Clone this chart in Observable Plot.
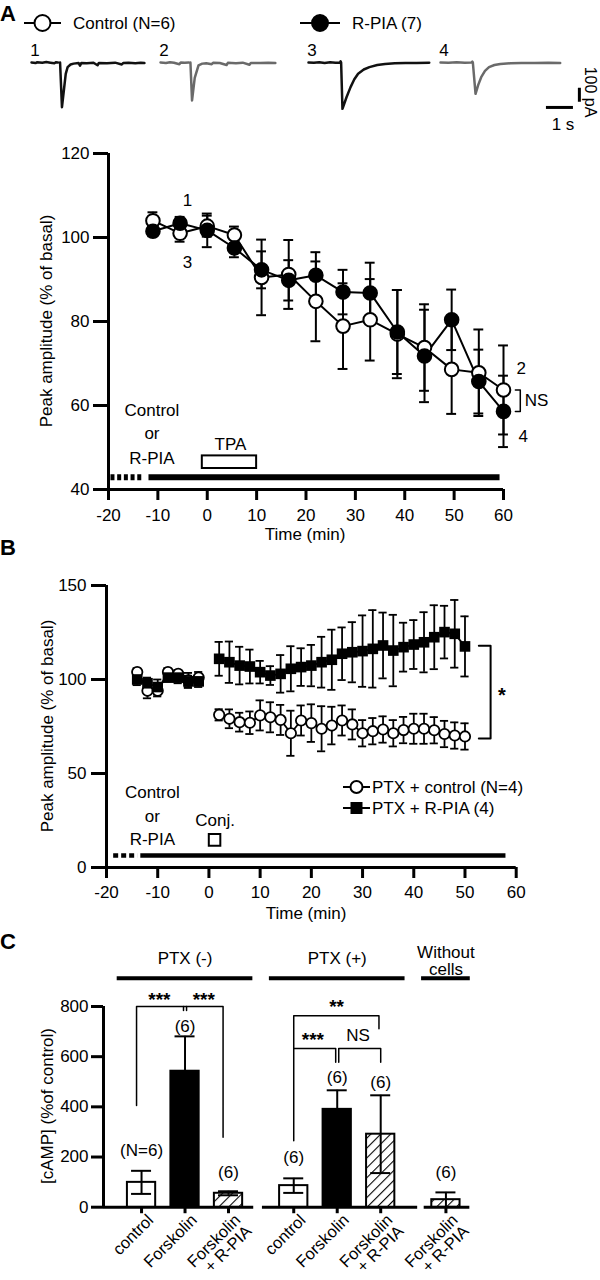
<!DOCTYPE html>
<html>
<head>
<meta charset="utf-8">
<script src="https://cdn.jsdelivr.net/npm/d3@7"></script>
<script src="https://cdn.jsdelivr.net/npm/@observablehq/plot@0.6"></script>
<style>
  html,body{margin:0;padding:0;background:#fff;}
  #root{position:relative;width:600px;height:1280px;overflow:hidden;background:#fff;color:#000;
        font-family:"Liberation Sans",Arial,Helvetica,sans-serif;}
  #root .lbl{position:absolute;white-space:nowrap;line-height:1;width:max-content;}
  #root svg{overflow:visible;}
  #root svg [aria-label*="axis"] path, #root svg [aria-label*="axis"] line{stroke-width:3px;}
</style>
</head>
<body>
<div id="root"></div>
<script>
// ---------------- DATA ----------------
// Panel A : Peak amplitude (% of basal) vs time (min)
const timeA = [-11, -5.5, 0, 5.5, 11, 16.5, 22, 27.5, 33, 38.5, 44, 49.5, 55, 60];
const controlA = [104, 101, 102.7, 100.6, 90.5, 91.2, 84.8, 78.9, 80.4, 77, 73.8, 68.6, 67.8, 63.7];
const controlAErr = [2, 2, 2.5, 2, 9, 8.2, 9.5, 10.2, 9.7, 10.5, 10.3, 10.6, 10.3, 10.6];
const rpiaA = [101.5, 103.4, 101.7, 97.5, 92.3, 89.8, 91, 87, 86.8, 77.5, 71.8, 80.4, 65.7, 58.6];
const rpiaAErr = [1.2, 1.5, 4, 2.2, 4.4, 4.8, 5.5, 5.3, 7.2, 10, 11, 7.2, 7.6, 8.5];
const xTicksA = [-20, -10, 0, 10, 20, 30, 40, 50, 60];
const yTicksA = [40, 60, 80, 100, 120];
const preBarA = [-19.5, -12.9];
const drugBarA = [-11.8, 59.3];
const tpaPeriodA = [-1, 10];
const tracePointLabelsA = ["1", "3", "2", "4"];
const tracePointTimesA = [-4, -4, 63.6, 64];
const tracePointValuesA = [108.8, 94.1, 68.7, 52.5];

// Panel A inset traces: [time (s), current (pA)]
const trace1 = [[0,0],[0.15,-4],[0.2,1],[0.4,-2],[0.55,3],[0.7,-1],[0.85,-5],[0.9,1],[0.98,0],[1.0,NaN],[1.06,0],[1.13,-319],[1.2,-200],[1.27,-81],[1.34,-33],[1.45,-14],[1.56,-8],[1.75,-4],[1.8,-22],[1.85,-3],[2.05,-5],[2.3,-2],[2.45,-20],[2.5,-3],[2.8,-6],[3.1,-1],[3.35,-14],[3.4,-4],[3.6,-2],[3.85,-6],[4.05,-1],[4.19,-4]];
const trace2 = [[0,0],[0.2,-3],[0.35,2],[0.5,-2],[0.7,-12],[0.75,0],[0.9,-2],[1.05,0],[1.08,NaN],[1.11,0],[1.17,-271],[1.27,-110],[1.41,-20],[1.55,-8],[1.7,-5],[1.9,-12],[1.95,-2],[2.2,-4],[2.45,-18],[2.5,-2],[2.8,-5],[3.05,-1],[3.3,-16],[3.35,-3],[3.7,-4],[4.0,-1],[4.26,-3]];
const trace3 = [[0,0],[0.2,-2],[0.4,2],[0.6,-3],[0.8,1],[1.0,-2],[1.17,0],[1.19,8],[1.21,0],[1.26,-331],[1.41,-248],[1.56,-176],[1.7,-120],[1.84,-80],[2.05,-50],[2.26,-33],[2.55,-18],[2.84,-10],[3.2,-6],[3.6,-3],[4.0,-4],[4.48,-1]];
const trace4 = [[0,0],[0.3,-2],[0.6,1],[0.9,-2],[1.15,0],[1.18,6],[1.2,0],[1.3,-224],[1.4,-160],[1.51,-105],[1.65,-60],[1.8,-33],[2.0,-18],[2.22,-10],[2.6,-6],[3.0,-3],[3.5,-4],[4.0,-1],[4.44,-3]];
const scaleBarSeconds = 1;
const scaleBarPicoamps = 100;

// Panel B
const preTimeB = [-14, -12, -10, -8, -6, -4, -2];
const postTimeB = [2, 4, 6, 8, 10, 12, 14, 16, 18, 20, 22, 24, 26, 28, 30, 32, 34, 36, 38, 40, 42, 44, 46, 48, 50];
const ctrlPreB = [104, 94, 94, 104, 103, 99.5, 101];
const ctrlPreErrB = [2, 4, 3, 2, 2, 4, 3];
const rpiaPreB = [100, 98, 96, 101, 101, 99, 99];
const rpiaPreErrB = [3, 3, 4, 2, 3, 3, 3];
const ctrlPostB = [81.2, 79.1, 77.3, 77, 80.9, 79.9, 78.5, 71.4, 78.2, 76.8, 73.8, 75.5, 78.2, 76.1, 71.4, 72.5, 73.4, 71.4, 73.1, 73.8, 73.8, 73, 71, 70.2, 69.7];
const ctrlPostErrB = [3, 5, 5, 6, 8, 8, 8, 12, 8, 10, 12, 10, 8, 8, 7, 7, 7, 7, 7, 8, 8, 7, 7, 7, 7];
const rpiaPostB = [111, 109.2, 107.4, 106.9, 103.9, 102.1, 103, 105.7, 106.6, 107.4, 109.2, 110.5, 113.7, 114.5, 115.1, 116.3, 118.1, 115.4, 117.2, 118.6, 119.8, 122.5, 125.2, 124.3, 117.6];
const rpiaPostErrB = [9, 11, 10, 9, 6, 5, 10, 12, 10, 11, 13.5, 16, 14, 16, 19, 20.6, 17.5, 19, 13, 13, 16, 17, 14, 18, 16];
const xTicksB = [-20, -10, 0, 10, 20, 30, 40, 50, 60];
const yTicksB = [0, 50, 100, 150];
const preBarB = [-18.6, -13.9];
const drugBarB = [-13.3, 58];
const conjTimeB = 1.1;

// Panel C : [cAMP] (% of control)
const barGroupC = ["PTX (-)", "PTX (-)", "PTX (-)", "PTX (+)", "PTX (+)", "PTX (+)", "Without cells"];
const barCategoryC = ["control", "Forskolin", "Forskolin + R-PIA", "control", "Forskolin", "Forskolin + R-PIA", "Forskolin + R-PIA"];
const barValueC = [99, 542, 55.5, 86, 390, 291, 30];
const barErrC = [46, 139, 8, 29, 76, 155, 29];
const barNLabelC = ["(N=6)", "(6)", "(6)", "(6)", "(6)", "(6)", "(6)"];
const barNLabelValueC = [225, 721, 139, 199, 518, 498, 139];
const yTicksC = [0, 200, 400, 600, 800];
const groupLabelsC = ["PTX (-)", "PTX (+)", "Without\ncells"];

// ---------------- HELPERS ----------------
const FONT = '"Liberation Sans", Arial, Helvetica, sans-serif';
const root = document.getElementById("root");
function place(node, left, top) {
  node.style.position = "absolute";
  node.style.left = left + "px";
  node.style.top = top + "px";
  root.appendChild(node);
  return node;
}
function label(txt, x, y, opt = {}) {
  const d = document.createElement("div");
  d.className = "lbl";
  d.textContent = txt;
  d.style.fontSize = (opt.size || 17) + "px";
  d.style.fontWeight = opt.weight || "normal";
  const ax = opt.anchor === "start" ? "0" : opt.anchor === "end" ? "-100%" : "-50%";
  d.style.transform = `translate(${ax},-50%)` + (opt.rotate ? ` rotate(${opt.rotate}deg)` : "");
  d.style.left = x + "px";
  d.style.top = y + "px";
  root.appendChild(d);
  return d;
}
const baseStyle = {fontSize: "17px", fontFamily: FONT, background: "transparent", color: "black", overflow: "visible"};
const pts = (times, vals, errs) => times.map((t, i) => ({t, v: vals[i], e: errs[i]}));
function errMarks(data, cap, sw) {
  return [
    Plot.ruleX(data, {x: "t", y1: d => d.v - d.e, y2: d => d.v + d.e, stroke: "black", strokeWidth: sw}),
    Plot.ruleY(data, {y: d => d.v + d.e, x1: d => d.t - cap, x2: d => d.t + cap, stroke: "black", strokeWidth: sw}),
    Plot.ruleY(data, {y: d => d.v - d.e, x1: d => d.t - cap, x2: d => d.t + cap, stroke: "black", strokeWidth: sw})
  ];
}
function swatch(kind, w, h) {
  const ns = "http://www.w3.org/2000/svg";
  const s = document.createElementNS(ns, "svg");
  s.setAttribute("width", w); s.setAttribute("height", h);
  const l = document.createElementNS(ns, "line");
  l.setAttribute("x1", 0); l.setAttribute("x2", w); l.setAttribute("y1", h / 2); l.setAttribute("y2", h / 2);
  l.setAttribute("stroke", "black"); l.setAttribute("stroke-width", 2);
  s.appendChild(l);
  let m;
  if (kind === "square") {
    m = document.createElementNS(ns, "rect");
    m.setAttribute("x", w / 2 - 6); m.setAttribute("y", h / 2 - 6); m.setAttribute("width", 12); m.setAttribute("height", 12);
    m.setAttribute("fill", "black");
  } else {
    m = document.createElementNS(ns, "circle");
    m.setAttribute("cx", w / 2); m.setAttribute("cy", h / 2);
    m.setAttribute("r", kind === "smallopen" ? 6 : 8);
    m.setAttribute("fill", kind === "filled" ? "black" : "white");
    m.setAttribute("stroke", "black"); m.setAttribute("stroke-width", 2);
  }
  s.appendChild(m);
  return s;
}

// ---------------- PANEL A HEADER ----------------
label("A", 8, 14, {size: 22, weight: "bold"});
place(swatch("open", 37, 20), 24, 13);
label("Control (N=6)", 73, 23, {size: 17, anchor: "start"});
place(swatch("filled", 40, 20), 300, 13);
label("R-PIA (7)", 352, 23, {size: 17, anchor: "start"});

const traceLefts = [31, 160, 308, 440];
const traceColors = ["#111", "#6a6a6a", "#111", "#6a6a6a"];
const traceNames = ["1", "2", "3", "4"];
[trace1, trace2, trace3, trace4].forEach((tr, k) => {
  const p = Plot.plot({
    width: 124, height: 63, margin: 0,
    style: baseStyle,
    x: {domain: [0, 4.6], axis: null},
    y: {domain: [-400, 50], axis: null},
    marks: [Plot.line(tr, {x: d => d[0], y: d => d[1], stroke: traceColors[k], strokeWidth: 2.5})]
  });
  place(p, traceLefts[k], 55);
  label(traceNames[k], traceLefts[k] + 4, 50, {size: 17});
});
{
  const p = Plot.plot({
    width: 54, height: 63, margin: 0, style: baseStyle,
    x: {domain: [0, 2], axis: null},
    y: {domain: [-400, 50], axis: null},
    marks: [
      Plot.ruleY([-321], {x1: 0.22, x2: 0.22 + scaleBarSeconds, strokeWidth: 3}),
      Plot.ruleX([1.44], {y1: -184, y2: -184 - scaleBarPicoamps, strokeWidth: 3})
    ]
  });
  place(p, 540, 55);
  label("100 pA", 590, 92, {size: 16, rotate: 90});
  label("1 s", 563, 124, {size: 17});
}

// ---------------- PANEL A PLOT ----------------
{
  const ctrl = pts(timeA, controlA, controlAErr);
  const rp = pts(timeA, rpiaA, rpiaAErr);
  const txt = tracePointLabelsA.map((s, i) => ({s, t: tracePointTimesA[i], v: tracePointValuesA[i]}));
  const p = Plot.plot({
    width: 600, height: 394, marginLeft: 108, marginRight: 97, marginTop: 13, marginBottom: 45,
    style: baseStyle,
    x: {domain: [-20, 60], ticks: xTicksA, tickSize: 11, tickPadding: 8, label: null, tickFormat: d => String(d)},
    y: {domain: [40, 120], ticks: yTicksA, tickSize: 15, tickPadding: 4, label: null, tickFormat: d => String(d)},
    marks: [
      Plot.ruleX([-20], {y1: 40, y2: 120, strokeWidth: 3}),
      Plot.ruleY([40], {x1: -20, x2: 60, strokeWidth: 3}),
      Plot.ruleY([42.9], {x1: preBarA[0], x2: preBarA[1], strokeWidth: 6, strokeDasharray: "4 2.7"}),
      Plot.ruleY([42.9], {x1: drugBarA[0], x2: drugBarA[1], strokeWidth: 6}),
      Plot.rect([0], {x1: tpaPeriodA[0], x2: tpaPeriodA[1], y1: 45, y2: 48, fill: "white", stroke: "black", strokeWidth: 2}),
      Plot.text(["TPA"], {x: 4.7, y: 50.6, fontSize: 17}),
      Plot.text(["Control", "or", "R-PIA"], {x: -11.2, y: (d, i) => [58.8, 53.3, 47.3][i], fontSize: 17}),
      ...errMarks(ctrl, 1.0, 2),
      ...errMarks(rp, 1.0, 2),
      Plot.line(ctrl, {x: "t", y: "v", strokeWidth: 2}),
      Plot.line(rp, {x: "t", y: "v", strokeWidth: 2}),
      Plot.dot(ctrl, {x: "t", y: "v", r: 6.8, fill: "white", stroke: "black", strokeWidth: 2}),
      Plot.dot(rp, {x: "t", y: "v", r: 6.8, fill: "black", stroke: "black", strokeWidth: 2}),
      Plot.text(txt, {x: "t", y: "v", text: "s", fontSize: 17}),
      Plot.line([[62.4, 63.7], [63.4, 63.7], [63.4, 58.6], [62.4, 58.6]], {strokeWidth: 1.5}),
      Plot.text(["NS"], {x: 64.3, y: 61.2, textAnchor: "start", fontSize: 17})
    ]
  });
  place(p, 0, 140);
  label("Time (min)", 305, 534, {size: 17});
  label("Peak amplitude (% of basal)", 46, 321, {size: 17, rotate: -90});
}

// ---------------- PANEL B ----------------
{
  label("B", 8, 548, {size: 22, weight: "bold"});
  const cPre = pts(preTimeB, ctrlPreB, ctrlPreErrB);
  const cPost = pts(postTimeB, ctrlPostB, ctrlPostErrB);
  const rPre = pts(preTimeB, rpiaPreB, rpiaPreErrB);
  const rPost = pts(postTimeB, rpiaPostB, rpiaPostErrB);
  const p = Plot.plot({
    width: 600, height: 367, marginLeft: 106, marginRight: 84.3, marginTop: 25, marginBottom: 60,
    style: baseStyle,
    x: {domain: [-20, 60], ticks: xTicksB, tickSize: 11, tickPadding: 7, label: null, tickFormat: d => String(d)},
    y: {domain: [0, 150], ticks: yTicksB, tickSize: 15, tickPadding: 5, label: null, tickFormat: d => String(d)},
    marks: [
      Plot.ruleX([-20], {y1: 0, y2: 150, strokeWidth: 3}),
      Plot.ruleY([0], {x1: -20, x2: 60, strokeWidth: 3}),
      Plot.ruleY([6.4], {x1: preBarB[0], x2: preBarB[1], strokeWidth: 4.5, strokeDasharray: "5 3"}),
      Plot.ruleY([6.4], {x1: drugBarB[0], x2: drugBarB[1], strokeWidth: 4.5}),
      Plot.dot([0], {x: conjTimeB, y: 14.7, symbol: "square", r: 6.5, fill: "white", stroke: "black", strokeWidth: 2}),
      Plot.text(["Conj."], {x: 1.2, y: 25, fontSize: 17}),
      Plot.text(["Control", "or", "R-PIA"], {x: -11.05, y: (d, i) => [40, 27.1, 14.7][i], fontSize: 17}),
      ...errMarks(cPre, 0.8, 1.8), ...errMarks(cPost, 0.8, 1.8),
      ...errMarks(rPre, 0.8, 1.8), ...errMarks(rPost, 0.8, 1.8),
      Plot.line(cPre, {x: "t", y: "v", strokeWidth: 1.8}),
      Plot.line(cPost, {x: "t", y: "v", strokeWidth: 1.8}),
      Plot.line(rPre, {x: "t", y: "v", strokeWidth: 1.8}),
      Plot.line(rPost, {x: "t", y: "v", strokeWidth: 1.8}),
      Plot.dot(cPre.concat(cPost), {x: "t", y: "v", r: 5.2, fill: "white", stroke: "black", strokeWidth: 1.8}),
      Plot.dot(rPre.concat(rPost), {x: "t", y: "v", r: 6, symbol: "square", fill: "black"}),
      Plot.line([[52.7, 118], [55, 118], [55, 68.6], [52.7, 68.6]], {strokeWidth: 2}),
      Plot.text(["*"], {x: 57.2, y: 91.5, fontSize: 20, fontWeight: "bold"})
    ]
  });
  place(p, 0, 560);
  label("Time (min)", 306, 913, {size: 17});
  label("Peak amplitude (% of basal)", 47, 726, {size: 17, rotate: -90});
  place(swatch("smallopen", 27, 20), 343, 777);
  label("PTX + control (N=4)", 372, 787, {size: 17, anchor: "start"});
  place(swatch("square", 27, 20), 343, 798);
  label("PTX + R-PIA (4)", 372, 808, {size: 17, anchor: "start"});
}

// ---------------- PANEL C ----------------
{
  label("C", 8, 942, {size: 22, weight: "bold"});
  const bars = barValueC.map((v, i) => ({group: barGroupC[i], cat: barCategoryC[i], value: v, err: barErrC[i],
                                          n: barNLabelC[i], nv: barNLabelValueC[i]}));
  let s = 0;
  bars.forEach((b, i) => {
    if (i > 0) s += (b.group === bars[i - 1].group) ? 2 : 3;
    b.slot = s;
  });
  const groups = Array.from(new Set(barGroupC)).map((g, k) => {
    const sl = bars.filter(b => b.group === g).map(b => b.slot);
    const lo = d3.min(sl), hi = d3.max(sl);
    return {label: groupLabelsC[k], c: (lo + hi) / 2, half: (hi - lo) / 2 + 1.12};
  });
  const fillOf = c => c === "control" ? "white" : c === "Forskolin" ? "black" : "url(#hatchC)";
  const xMin = -1.75;
  const cap = 0.46;
  const p = Plot.plot({
    width: 600, height: 350, marginLeft: 103, marginRight: 17.6, marginTop: 76, marginBottom: 73.3,
    style: baseStyle,
    x: {domain: [xMin, 20.3], axis: null},
    y: {domain: [0, 800], ticks: yTicksC, tickSize: 12, tickPadding: 3, label: null},
    marks: [
      Plot.ruleX([xMin], {y1: 0, y2: 800, strokeWidth: 3}),
      Plot.ruleY([0], {x1: xMin, x2: 5.16, strokeWidth: 3}),
      Plot.ruleY([0], {x1: 5.56, x2: 12.7, strokeWidth: 3}),
      Plot.ruleY([0], {x1: 13.0, x2: 15.1, strokeWidth: 3}),
      Plot.ruleX(bars, {x: "slot", y1: 0, y2: -26, strokeWidth: 3}),
      Plot.rect(bars, {x1: d => d.slot - 0.65, x2: d => d.slot + 0.65, y1: 0, y2: "value",
                       fill: d => fillOf(d.cat), stroke: "black", strokeWidth: 2}),
      Plot.ruleX(bars, {x: "slot", y1: d => d.value - d.err, y2: d => d.value + d.err, strokeWidth: 2}),
      Plot.ruleY(bars, {y: d => d.value + d.err, x1: d => d.slot - cap, x2: d => d.slot + cap, strokeWidth: 2}),
      Plot.ruleY(bars, {y: d => d.value - d.err, x1: d => d.slot - cap, x2: d => d.slot + cap, strokeWidth: 2}),
      Plot.text(bars, {x: "slot", y: "nv", text: "n", fontSize: 17}),
      Plot.text(bars, {x: "slot", y: 0, text: d => d.cat.replace(" + ", "\n+ "), rotate: -45,
                       textAnchor: "end", lineAnchor: "top", dx: 5, dy: 6, fontSize: 16.5, lineHeight: 0.95}),
      // group headers
      Plot.ruleY(groups, {y: 912.7, x1: d => d.c - d.half, x2: d => d.c + d.half, strokeWidth: 4}),
      Plot.text(groups, {x: "c", y: d => d.label.includes("\n") ? 983 : 991, text: "label", fontSize: 17, lineHeight: 1.0}),
      // significance brackets
      Plot.line([[-0.23, 405], [-0.23, 800], [3.75, 800], [3.75, 279]], {strokeWidth: 1.5}),
      Plot.line([[1.93, 800], [1.93, 784]], {strokeWidth: 1.5}),
      Plot.line([[2.07, 800], [2.07, 784]], {strokeWidth: 1.5}),
      Plot.line([[7, 265], [7, 763], [10.92, 763], [10.92, 711]], {strokeWidth: 1.5}),
      Plot.line([[7, 633], [8.93, 633], [8.93, 578]], {strokeWidth: 1.5}),
      Plot.line([[9.07, 578], [9.07, 633], [11, 633], [11, 578]], {strokeWidth: 1.5}),
      Plot.text(["***", "***"], {x: (d, i) => [0.82, 2.86][i], y: 826, fontSize: 19, fontWeight: "bold"}),
      Plot.text(["**"], {x: 8.97, y: 797, fontSize: 19, fontWeight: "bold"}),
      Plot.text(["***"], {x: 7.88, y: 666, fontSize: 19, fontWeight: "bold"}),
      Plot.text(["NS"], {x: 9.96, y: 684, fontSize: 17})
    ]
  });
  p.insertAdjacentHTML("afterbegin",
    '<defs><pattern id="hatchC" patternUnits="userSpaceOnUse" width="7" height="7" patternTransform="rotate(45)">' +
    '<rect width="7" height="7" fill="white"/><line x1="0" y1="0" x2="0" y2="7" stroke="black" stroke-width="2.2"/></pattern></defs>');
  place(p, 0, 930);
  label("[cAMP] (%of control)", 47, 1106, {size: 17, rotate: -90});
}
</script>
</body>
</html>
